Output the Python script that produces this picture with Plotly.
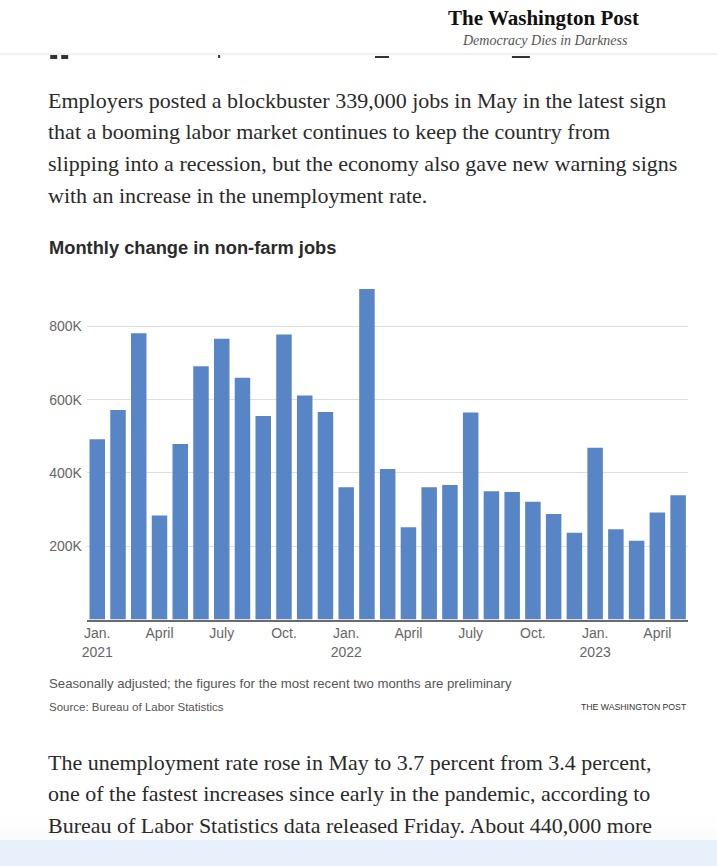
import plotly.graph_objects as go

W, H = 717, 866

# ---- data (thousands of jobs) ----
months = [f"{m} {y}" for y in (2021, 2022) for m in
          ["Jan", "Feb", "Mar", "Apr", "May", "Jun", "Jul", "Aug", "Sep", "Oct", "Nov", "Dec"]] + \
         ["Jan 2023", "Feb 2023", "Mar 2023", "Apr 2023", "May 2023"]
jobs_2021 = [492, 572, 781, 284, 479, 691, 766, 660, 555, 778, 611, 566]
jobs_2022 = [361, 902, 411, 252, 361, 367, 565, 350, 348, 321, 288, 237]
jobs_2023 = [469, 246, 215, 292, 339]
jobs = [v * 1000 for v in jobs_2021 + jobs_2022 + jobs_2023]

x_tick_vals = months[0::3]
x_tick_text = ["Jan.<br>2021", "April", "July", "Oct.", "Jan.<br>2022", "April",
               "July", "Oct.", "Jan.<br>2023", "April"]
y_tick_vals = [200000, 400000, 600000, 800000]
y_tick_text = ["200K", "400K", "600K", "800K"]

title = "Monthly change in non-farm jobs"
note = "Seasonally adjusted; the figures for the most recent two months are preliminary"
source = "Source: Bureau of Labor Statistics"
credit = "THE WASHINGTON POST"
para1 = ["Employers posted a blockbuster 339,000 jobs in May in the latest sign",
         "that a booming labor market continues to keep the country from",
         "slipping into a recession, but the economy also gave new warning signs",
         "with an increase in the unemployment rate."]
para2 = ["The unemployment rate rose in May to 3.7 percent from 3.4 percent,",
         "one of the fastest increases since early in the pandemic, according to",
         "Bureau of Labor Statistics data released Friday. About 440,000 more"]

SERIF = "Liberation Serif, Georgia, serif"
SANS = "Liberation Sans, Arial, sans-serif"

# horizontal calibration of the rendered page (measured offset / scale)
X_OFF, X_SCALE = 4.75, 0.9937


def px(x):
    return ((x - X_OFF) / X_SCALE) / W


def py(y):
    return 1 - y / H


fig = go.Figure()
fig.add_trace(go.Bar(x=months, y=jobs, marker=dict(color="#5885c6", line=dict(width=0)),
                     hoverinfo="x+y"))

plot_left, plot_right = 86.7, 688.7
plot_bottom, plot_top = 619.5, 278.7

fig.update_layout(
    width=W, height=H, autosize=False,
    margin=dict(l=0, r=0, t=0, b=0),
    paper_bgcolor="white", plot_bgcolor="white",
    bargap=0.253, showlegend=False,
    xaxis=dict(domain=[px(plot_left), px(plot_right)], type="category",
               categoryorder="array", categoryarray=months,
               tickmode="array", tickvals=x_tick_vals, ticktext=x_tick_text,
               tickfont=dict(family=SANS, size=14, color="#666"),
               showgrid=False, showline=True, linecolor="#6b6b6b", linewidth=2,
               ticks="", zeroline=False),
    yaxis=dict(domain=[py(plot_bottom), py(plot_top)], range=[0, 930000],
               tickmode="array", tickvals=y_tick_vals, ticktext=y_tick_text,
               tickfont=dict(family=SANS, size=14, color="#666"),
               ticklabelstandoff=4,
               showgrid=True, gridcolor="#dedede", gridwidth=1,
               zeroline=False, showline=False, ticks=""),
)

ann = []


def text(x, y, s, size, family, color, xanchor="left", bold=False, italic=False):
    if bold:
        s = f"<b>{s}</b>"
    if italic:
        s = f"<i>{s}</i>"
    ann.append(dict(x=px(x), y=py(y), xref="paper", yref="paper", text=s, showarrow=False,
                    xanchor=xanchor, yanchor="middle", borderpad=0,
                    font=dict(family=family, size=size, color=color)))


text(544, 18, "The Washington Post", 21, SERIF, "#111", xanchor="center", bold=True)
text(545, 40, "Democracy Dies in Darkness", 14, SERIF, "#555", xanchor="center", italic=True)

for i, line in enumerate(para1):
    text(47, 100 + i * 31.7, line, 22, SERIF, "#2a2a2a")
for i, line in enumerate(para2):
    text(47, 762 + i * 31.7, line, 22, SERIF, "#2a2a2a")

text(48, 248, title, 18.3, SANS, "#2b2b2b", bold=True)
text(48, 683, note, 13.2, SANS, "#555")
text(48, 707, source, 11.5, SANS, "#555")
text(688, 707, credit, 8.7, SANS, "#333", xanchor="right")

fig.update_layout(annotations=ann)

shapes = [
    dict(type="line", xref="paper", yref="paper", x0=-0.02, x1=1.02, y0=py(54), y1=py(54),
         line=dict(color="#e2e2e2", width=1)),
    dict(type="rect", xref="paper", yref="paper", x0=-0.02, x1=1.02, y0=0, y1=py(840),
         fillcolor="#e8f0fb", line=dict(width=0), layer="above"),
]
# clipped remnants of the previous line of text under the header
for (a, b, t, u) in [(50, 57, 55, 59), (61, 68, 55, 59), (218, 220, 55, 58),
                     (375, 389, 56, 58), (512, 530, 56, 58)]:
    shapes.append(dict(type="rect", xref="paper", yref="paper", x0=px(a), x1=px(b),
                       y0=py(u), y1=py(t), fillcolor="#333", line=dict(width=0)))
for k in range(6):
    y0 = 840 - (k + 1) * 4
    shapes.append(dict(type="rect", xref="paper", yref="paper", x0=-0.02, x1=1.02,
                       y0=py(y0 + 4), y1=py(y0), fillcolor="#dcdcdc",
                       opacity=0.12 * (6 - k) / 6, line=dict(width=0), layer="above"))
fig.update_layout(shapes=shapes)

fig.write_html("out.html", config={"displayModeBar": False},
               post_script="document.body.style.margin='0';document.body.style.overflow='hidden';")
